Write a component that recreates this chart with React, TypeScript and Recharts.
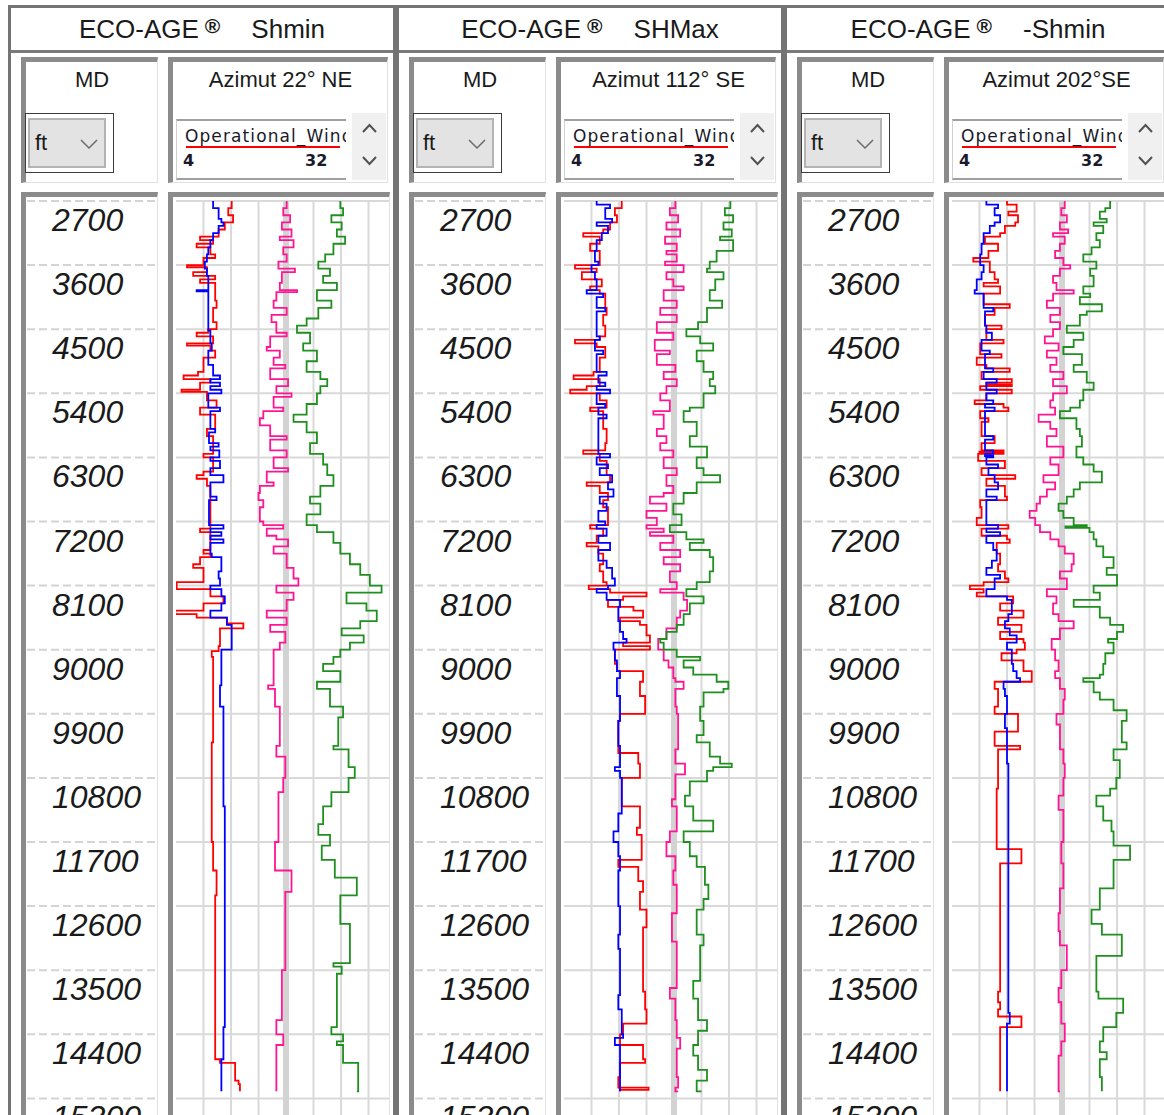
import React from 'react';
import { ScatterChart, Scatter, XAxis, YAxis, ReferenceLine } from 'recharts';

type Pt = [number, number];

// ---------- labels / ticks ----------
const depthTicks = [2700, 3600, 4500, 5400, 6300, 7200, 8100, 9000, 9900, 10800, 11700, 12600, 13500, 14400, 15300];
const gridValues = [8, 12, 16, 24, 28, 32];
const bandValue = 20;
const panelTitles = ['Shmin', 'SHMax', '-Shmin'];
const azimuthTitles = ['Azimut 22° NE', 'Azimut 112° SE', 'Azimut 202°SE'];
const curveName = 'Operational_Wind';
const scaleLabels = ['4', '32'];
const unitLabel = 'ft';
const depthDomain: [number, number] = [2700, 15533];
const valueDomain: [number, number] = [4, 36];

// ---------- panel 1 (Azimut 22° NE) ----------
const p1Red: Pt[] = [[2700,12.1],[2800,11.6],[2900,12.3],[3000,11.1],[3100,10.2],[3200,7.5],[3250,9.4],[3300,7.0],[3350,9.0],[3450,9.7],[3500,8.0],[3600,5.6],[3630,8.5],[3700,6.5],[3750,9.7],[3800,7.5],[3850,9.7],[4100,9.9],[4200,9.4],[4400,9.9],[4500,8.7],[4550,7.0],[4600,9.4],[4700,5.6],[4730,9.0],[4800,9.7],[4900,8.0],[5100,7.2],[5150,5.1],[5200,9.0],[5250,7.5],[5350,4.8],[5380,8.5],[5500,9.9],[5600,7.5],[5700,9.7],[5900,8.5],[6000,9.4],[6250,8.0],[6300,9.4],[6500,8.0],[6550,7.0],[6600,8.5],[6700,9.0],[7300,7.5],[7350,9.0],[7600,8.0],[7650,9.0],[7700,7.5],[7800,6.5],[7850,8.0],[8000,8.0],[8050,4.1],[8100,4.1],[8150,9.0],[8250,10.9],[8350,8.0],[8450,3.9],[8500,7.0],[8550,11.4],[8630,13.8],[8700,10.4],[8950,10.2],[9020,9.2],[9100,9.4],[10300,9.2],[11700,9.4],[12100,9.9],[12450,9.7],[14750,10.4],[14800,12.6],[15050,13.1],[15100,13.3],[15200,13.3]];
const p1Blue: Pt[] = [[2700,9.4],[2800,10.2],[2950,10.6],[3000,10.9],[3050,10.2],[3150,9.4],[3250,9.0],[3350,8.7],[3450,8.5],[3550,8.2],[3650,8.5],[3750,8.7],[3950,7.0],[3970,8.7],[4520,9.0],[4700,9.2],[4800,8.7],[5000,9.4],[5150,10.4],[5200,9.0],[5250,10.4],[5300,9.0],[5350,10.6],[5400,8.7],[5600,10.4],[5650,9.0],[5900,9.7],[5950,8.8],[6100,10.2],[6150,9.0],[6200,10.3],[6300,9.0],[6350,10.4],[6450,9.0],[6550,10.9],[6650,9.0],[6850,9.9],[6900,8.8],[7250,10.9],[7300,9.0],[7350,10.6],[7400,9.0],[7450,10.9],[7500,9.0],[7650,9.2],[7700,10.6],[7900,10.2],[8000,10.4],[8100,9.0],[8150,10.6],[8250,11.1],[8350,10.6],[8450,9.0],[8550,11.4],[8650,12.1],[9000,10.6],[9500,10.4],[9800,10.9],[11200,11.1],[14300,10.9],[14750,10.6],[15200,10.6]];
const p1Magenta: Pt[] = [[2700,20.1],[2800,19.6],[2900,20.6],[3000,19.4],[3100,20.8],[3200,19.1],[3250,21.1],[3350,19.6],[3450,20.1],[3550,18.9],[3650,21.3],[3700,19.4],[3850,19.1],[3950,21.6],[3980,18.6],[4100,18.2],[4200,20.1],[4300,17.9],[4400,18.6],[4550,20.1],[4600,17.7],[4750,17.2],[4800,19.1],[4900,18.2],[5000,19.9],[5050,17.7],[5200,20.3],[5300,18.6],[5400,20.8],[5450,18.2],[5600,19.6],[5650,16.7],[5750,16.2],[5850,17.7],[6000,20.1],[6050,17.7],[6200,20.1],[6300,18.2],[6450,20.3],[6500,17.2],[6650,18.2],[6700,16.2],[6800,16.0],[6900,16.7],[7000,16.2],[7200,16.7],[7250,19.6],[7300,17.2],[7400,18.6],[7450,20.3],[7550,18.2],[7650,20.1],[7850,21.1],[8000,21.8],[8100,18.6],[8200,21.1],[8300,20.1],[8450,17.2],[8550,20.1],[8650,17.7],[8750,19.9],[8900,19.1],[9000,18.2],[9500,17.4],[9550,18.4],[9800,19.1],[10350,18.6],[10500,19.9],[10800,19.6],[11000,18.9],[11700,18.4],[12100,20.8],[12400,19.9],[13500,19.4],[14200,18.6],[14400,19.6],[14550,18.6],[15200,18.6]];
const p1Green: Pt[] = [[2700,27.9],[2800,28.3],[2900,26.6],[3000,28.1],[3100,27.4],[3200,28.6],[3300,26.9],[3450,25.7],[3550,24.7],[3650,26.4],[3750,25.4],[3850,27.4],[3950,24.5],[4100,26.6],[4200,24.7],[4350,23.0],[4450,21.6],[4550,23.5],[4700,22.5],[4800,24.5],[4950,23.0],[5100,25.0],[5200,26.0],[5300,25.0],[5400,24.5],[5550,23.0],[5700,21.1],[5800,23.0],[5950,24.5],[6100,23.5],[6250,25.4],[6400,26.0],[6550,26.9],[6700,25.0],[6850,23.5],[6950,25.0],[7100,23.0],[7250,24.5],[7350,26.9],[7500,27.9],[7650,29.3],[7800,30.8],[7950,32.2],[8100,33.9],[8200,28.8],[8350,31.7],[8450,33.2],[8600,30.8],[8700,28.1],[8800,31.3],[8900,29.3],[9000,27.9],[9100,26.9],[9200,25.4],[9300,27.9],[9450,24.5],[9550,26.4],[9800,28.3],[9950,27.6],[10350,26.9],[10400,29.1],[10650,30.0],[10800,29.1],[11000,26.6],[11200,25.4],[11450,24.7],[11600,26.4],[11750,25.2],[11950,27.1],[12200,30.3],[12450,27.9],[12850,29.3],[13400,26.9],[13450,28.1],[13550,27.4],[14300,26.6],[14400,28.3],[14500,27.4],[14550,28.3],[14800,30.5],[15200,30.3]];

// ---------- panel 2 (Azimut 112° SE) ----------
const p2Red: Pt[] = [[2700,12.4],[2800,11.4],[2900,11.7],[3000,10.7],[3100,9.7],[3150,6.8],[3200,9.2],[3300,7.8],[3400,9.2],[3600,5.6],[3650,8.75],[3700,6.6],[3800,9.5],[3900,7.8],[3950,9.2],[4000,10.0],[4200,10.2],[4300,9.7],[4450,10.0],[4600,9.2],[4650,5.6],[4700,8.75],[4750,10.0],[4900,9.2],[5100,8.3],[5150,5.4],[5200,9.2],[5300,7.3],[5350,4.9],[5400,9.2],[5500,10.2],[5600,7.8],[5650,9.7],[5900,10.2],[6100,10.0],[6200,6.8],[6250,9.2],[6350,10.2],[6550,10.7],[6650,7.3],[6700,9.2],[6800,10.4],[6900,9.7],[7000,10.4],[7250,7.8],[7300,9.7],[7400,8.75],[7500,7.3],[7550,9.0],[7650,9.7],[7800,9.2],[7900,9.7],[8050,10.2],[8100,7.6],[8150,10.7],[8200,16.0],[8250,12.6],[8300,10.4],[8400,14.1],[8450,15.5],[8550,12.15],[8600,15.05],[8650,16.0],[8800,16.5],[8900,12.6],[8950,16.5],[9000,11.4],[9200,11.7],[9300,15.5],[9450,15.05],[9650,15.8],[9900,12.15],[10000,11.9],[10450,14.8],[10600,15.05],[10800,12.4],[11200,15.05],[11500,14.6],[11600,15.3],[11950,11.9],[12050,14.8],[12250,15.5],[12400,15.05],[12650,16.0],[12900,15.5],[13800,15.8],[14050,16.0],[14250,12.6],[14400,12.15],[14550,15.5],[14750,15.8],[14800,12.15],[15000,11.9],[15150,16.3],[15180,12.15],[15200,12.15]];
const p2Blue: Pt[] = [[2700,8.75],[2750,10.7],[2800,10.0],[2950,11.0],[3000,8.75],[3050,10.4],[3150,9.5],[3250,8.75],[3400,8.5],[3550,9.0],[3600,8.0],[3700,8.5],[3800,8.75],[3950,7.3],[4000,9.7],[4050,8.75],[4200,10.0],[4250,8.75],[4600,9.2],[4650,8.5],[4800,9.7],[4850,8.75],[5100,10.2],[5150,9.0],[5250,10.0],[5300,8.75],[5350,10.7],[5400,8.75],[5550,10.0],[5600,9.0],[5700,10.2],[5750,9.0],[6250,10.7],[6300,8.75],[6400,10.4],[6450,9.2],[6550,11.0],[6650,10.4],[6750,11.2],[6850,9.2],[6950,10.2],[7050,9.0],[7200,10.0],[7250,8.75],[7300,10.2],[7400,9.0],[7500,10.7],[7600,9.0],[7750,10.2],[7850,11.0],[8000,11.4],[8100,10.4],[8150,8.75],[8200,10.2],[8300,12.15],[8400,11.9],[8600,12.15],[8750,12.6],[8850,13.1],[8900,11.2],[9000,11.4],[9150,11.7],[9300,12.15],[9400,11.7],[9650,12.15],[10000,11.9],[10350,12.15],[10650,11.4],[10700,12.15],[10800,12.4],[11300,11.9],[11550,11.2],[11700,11.9],[11900,12.15],[12100,11.9],[12600,12.15],[13000,11.9],[13200,12.15],[13850,11.9],[14050,12.4],[14400,12.6],[14450,11.4],[14550,12.15],[15200,12.15]];
const p2Magenta: Pt[] = [[2700,20.2],[2800,19.4],[2900,20.6],[3000,18.9],[3100,20.9],[3200,18.7],[3300,20.4],[3400,18.9],[3450,20.4],[3550,18.7],[3600,21.4],[3700,18.9],[3800,19.9],[3900,21.4],[3950,18.5],[4100,20.4],[4200,18.0],[4300,20.4],[4400,17.5],[4550,19.9],[4650,17.2],[4800,19.4],[4850,17.5],[5000,20.2],[5100,18.5],[5200,20.4],[5300,18.9],[5400,18.0],[5500,19.4],[5650,17.0],[5700,18.5],[5900,17.5],[6000,18.9],[6100,18.0],[6200,19.9],[6300,18.5],[6450,20.4],[6550,18.9],[6700,19.9],[6800,18.5],[6850,16.5],[6950,18.9],[7050,16.0],[7150,17.5],[7250,16.0],[7300,18.5],[7350,16.5],[7400,19.9],[7500,18.0],[7600,20.9],[7700,18.5],[7800,20.9],[7900,19.4],[8050,20.4],[8150,18.0],[8200,21.4],[8300,21.9],[8450,20.9],[8550,20.4],[8700,18.9],[8850,17.7],[9000,18.5],[9150,19.2],[9250,19.9],[9400,20.2],[9450,21.4],[9550,20.2],[9800,20.4],[9900,20.6],[10400,20.2],[10600,21.6],[10750,20.2],[11100,19.7],[11200,20.4],[11550,19.4],[11700,18.9],[11900,20.2],[12100,19.9],[12300,20.4],[12700,19.7],[13100,20.4],[13750,19.4],[13900,20.2],[14200,20.4],[14450,20.9],[14600,20.4],[15000,20.6],[15150,20.2],[15200,20.6]];
const p2Green: Pt[] = [[2700,28.2],[2800,27.4],[2900,28.6],[3000,27.2],[3100,28.4],[3200,26.7],[3250,28.6],[3400,26.2],[3550,25.2],[3650,24.8],[3700,27.2],[3800,26.0],[3950,25.2],[4100,27.0],[4200,24.8],[4400,23.5],[4500,21.8],[4600,23.8],[4700,25.7],[4800,23.3],[4950,24.3],[5100,25.7],[5200,25.2],[5300,26.0],[5400,24.3],[5600,22.3],[5650,21.4],[5800,23.3],[6000,22.3],[6150,24.8],[6300,23.3],[6450,24.3],[6550,26.7],[6650,23.3],[6800,21.4],[6950,19.9],[7100,21.1],[7250,19.4],[7350,21.8],[7450,24.3],[7500,22.3],[7600,25.2],[7700,25.7],[7900,25.2],[8050,23.3],[8150,21.8],[8250,24.3],[8350,22.3],[8500,21.4],[8650,20.4],[8750,18.9],[8850,18.0],[8900,18.5],[9000,20.4],[9100,23.8],[9150,21.4],[9250,22.8],[9350,26.2],[9450,27.9],[9550,27.2],[9600,24.3],[9800,23.8],[10000,24.3],[10200,23.3],[10300,25.2],[10500,26.7],[10600,28.4],[10650,25.7],[10700,24.8],[10850,22.3],[11050,21.6],[11200,22.8],[11400,25.7],[11550,21.4],[11700,22.3],[11900,23.3],[12050,24.5],[12300,25.0],[12500,24.3],[12650,23.3],[13000,24.3],[13150,23.8],[13650,22.8],[13900,23.5],[14200,24.8],[14350,23.5],[14550,22.8],[14700,23.5],[14900,24.8],[15050,23.3],[15200,24.0]];

// ---------- panel 3 (Azimut 202°SE) ----------
const p3Red: Pt[] = [[2700,12.0],[2750,13.4],[2850,12.2],[2900,13.6],[3000,13.2],[3050,11.7],[3150,11.0],[3200,8.8],[3300,10.7],[3400,9.3],[3500,7.1],[3550,9.5],[3700,10.2],[3800,10.7],[3850,8.6],[3900,11.0],[4000,8.6],[4150,12.4],[4200,10.2],[4300,8.8],[4450,11.2],[4500,9.0],[4650,11.5],[4700,8.1],[4850,11.2],[4900,7.6],[5000,9.0],[5050,12.4],[5100,8.3],[5200,12.7],[5250,9.0],[5280,12.7],[5300,8.1],[5350,12.7],[5400,9.0],[5500,7.3],[5550,11.5],[5600,12.2],[5650,8.1],[5750,9.3],[5800,8.3],[6000,10.2],[6100,8.3],[6200,11.5],[6220,8.0],[6240,11.5],[6250,7.8],[6350,11.7],[6450,8.3],[6550,13.2],[6600,9.0],[6700,11.7],[6850,12.0],[6900,8.1],[7000,8.3],[7150,7.6],[7250,12.2],[7300,8.3],[7400,12.0],[7450,12.4],[7500,10.5],[7650,11.0],[7800,10.7],[7900,11.7],[8000,12.2],[8050,8.6],[8100,6.6],[8150,8.6],[8200,7.6],[8250,12.9],[8350,11.0],[8450,14.4],[8550,10.7],[8650,14.1],[8750,11.0],[8850,14.4],[8900,14.6],[9000,13.4],[9050,11.2],[9150,14.4],[9300,15.6],[9450,10.2],[9550,10.7],[9800,10.2],[9900,13.6],[10150,10.2],[10350,13.9],[10400,10.7],[10950,10.5],[11800,14.1],[12000,11.0],[13800,10.7],[13950,11.0],[14050,10.7],[14150,14.1],[14300,11.0],[15200,11.0]];
const p3Blue: Pt[] = [[2700,9.0],[2750,10.7],[2800,10.2],[2900,11.0],[3000,10.2],[3050,9.5],[3150,8.6],[3300,8.3],[3450,8.1],[3600,8.6],[3700,8.3],[3800,7.6],[3950,7.3],[4000,8.6],[4200,10.0],[4250,8.8],[4450,9.0],[4550,9.8],[4650,8.3],[4800,9.5],[4850,8.8],[5050,10.0],[5100,8.6],[5200,10.5],[5250,9.0],[5350,10.5],[5400,9.0],[5500,10.0],[5550,8.8],[5600,10.2],[5650,8.8],[6000,10.0],[6050,8.8],[6200,10.0],[6250,8.8],[6280,10.0],[6300,9.0],[6400,10.7],[6450,9.3],[6550,10.2],[6650,10.7],[6750,9.0],[6850,10.5],[6900,9.0],[7250,10.7],[7300,9.0],[7350,11.0],[7400,9.0],[7500,10.0],[7600,10.5],[7750,9.8],[7850,9.0],[7950,11.0],[8000,10.2],[8150,9.0],[8250,12.0],[8300,12.7],[8500,12.2],[8600,11.7],[8700,12.4],[8800,13.4],[8900,12.0],[9000,12.7],[9200,12.9],[9300,13.4],[9400,13.9],[9450,11.5],[9550,11.7],[9650,12.0],[9900,11.7],[10100,12.0],[10600,12.2],[14100,12.4],[14250,12.0],[15200,12.0]];
const p3Magenta: Pt[] = [[2700,20.4],[2800,19.9],[2900,20.7],[3000,19.7],[3100,20.9],[3150,18.7],[3200,20.4],[3300,19.7],[3400,19.0],[3500,20.2],[3600,21.2],[3650,19.7],[3750,18.7],[3850,19.2],[3950,21.7],[4000,18.7],[4100,17.8],[4200,19.7],[4300,18.3],[4400,19.7],[4500,18.7],[4600,17.5],[4700,19.5],[4800,17.8],[4900,19.2],[5000,18.3],[5100,20.2],[5200,18.7],[5300,20.7],[5400,18.7],[5500,18.3],[5600,19.0],[5700,16.6],[5800,18.3],[5900,19.2],[6000,17.8],[6150,20.2],[6300,18.3],[6400,19.5],[6550,17.3],[6650,19.0],[6750,17.8],[6850,16.8],[6950,16.3],[7050,15.3],[7150,16.1],[7250,16.8],[7350,18.3],[7450,19.5],[7550,20.4],[7650,21.7],[7800,21.4],[7900,19.7],[8000,20.7],[8150,17.8],[8250,19.2],[8350,18.7],[8500,19.5],[8600,21.7],[8700,19.7],[8850,18.5],[9000,19.0],[9150,19.5],[9300,19.0],[9400,19.7],[9550,20.4],[9700,20.2],[9900,19.2],[10050,19.7],[10400,20.2],[10600,20.4],[10800,20.2],[11050,19.5],[11250,20.2],[11700,19.9],[12000,20.2],[12350,19.7],[12700,19.5],[12950,19.7],[13150,20.7],[13500,19.9],[13750,19.5],[13950,19.9],[14250,20.4],[14500,19.9],[14700,19.5],[15200,19.7]];
const p3Green: Pt[] = [[2700,27.0],[2800,26.3],[2850,25.5],[2950,26.5],[3000,24.6],[3050,26.0],[3150,25.0],[3250,25.5],[3350,24.3],[3450,23.1],[3550,25.0],[3650,24.1],[3750,24.6],[3900,23.1],[4000,24.1],[4050,22.6],[4150,25.8],[4250,23.6],[4300,22.6],[4450,20.7],[4550,23.1],[4650,21.7],[4750,20.2],[4850,22.9],[5000,21.7],[5100,23.6],[5250,24.6],[5350,23.1],[5500,22.6],[5600,21.2],[5650,19.7],[5750,22.1],[5900,22.6],[6000,22.9],[6150,22.1],[6300,23.1],[6400,24.6],[6500,25.8],[6650,22.6],[6750,21.7],[6850,20.7],[6950,19.5],[7050,20.2],[7150,21.7],[7250,23.6],[7270,20.5],[7290,24.0],[7350,24.6],[7450,25.0],[7550,26.0],[7700,27.5],[7850,26.5],[7950,28.0],[8100,24.6],[8200,25.5],[8300,21.7],[8400,25.5],[8550,27.0],[8650,28.9],[8750,28.0],[8850,26.7],[8900,27.5],[9050,26.3],[9200,26.0],[9350,25.5],[9400,23.1],[9450,24.6],[9600,25.5],[9700,27.5],[9850,29.4],[10000,28.7],[10300,29.4],[10400,27.5],[10550,28.4],[10800,27.9],[10950,27.0],[11050,25.0],[11200,26.0],[11400,27.2],[11550,27.5],[11750,29.9],[11950,27.5],[12200,27.5],[12350,25.5],[12650,24.3],[12850,25.8],[13000,28.7],[13300,25.0],[13800,25.3],[13900,28.9],[14100,27.9],[14300,26.0],[14500,25.5],[14650,26.5],[14750,25.5],[15000,25.8],[15200,25.8]];

const panelCurves: Pt[][][] = [
  [p1Red, p1Blue, p1Magenta, p1Green],
  [p2Red, p2Blue, p2Magenta, p2Green],
  [p3Red, p3Blue, p3Magenta, p3Green],
];
const curveColors = ['#ff0000', '#0000ff', '#ff1493', '#1f8f1f'];

// convert [depth, value] readings into step-curve points
function toStep(pts: Pt[]) {
  const out: { d: number; v: number }[] = [];
  pts.forEach((p, i) => {
    if (i > 0) out.push({ d: p[0], v: pts[i - 1][1] });
    out.push({ d: p[0], v: p[1] });
  });
  return out;
}

const FONT = '"Liberation Sans", Arial, sans-serif';
const LEGEND_FONT = '"DejaVu Sans", Verdana, sans-serif';
const PANEL_W = 388;

const NoShape = () => <g />;

const DepthTick = (props: any) => {
  const { y, payload } = props;
  return (
    <g>
      <line x1={2} x2={133} y1={y} y2={y} stroke="#d4d4d4" strokeWidth={2} strokeDasharray="8 4" />
      <text x={27} y={y + 30} fontSize={32} fontStyle="italic" fontFamily={FONT} fill="#1a1a1a">
        {payload.value}
      </text>
    </g>
  );
};

const inset = (left: number, top: number, width: number, height: number): React.CSSProperties => ({
  position: 'absolute', left, top, width, height, boxSizing: 'border-box',
  borderTop: '5px solid #8b8b8b', borderLeft: '5px solid #8b8b8b',
  borderRight: '1px solid #e2e2e2', borderBottom: '1px solid #e2e2e2',
});

function Panel({ index }: { index: number }) {
  const ox = index * PANEL_W;
  const curves = panelCurves[index];
  return (
    <>
      {/* log chart: MD column axis + track */}
      <div style={{ position: 'absolute', left: 25 + ox, top: 197, width: 365, height: 918, overflow: 'hidden' }}>
        <ScatterChart width={371} height={918} margin={{ top: 4, right: 0, bottom: 0, left: 0 }}>
          <XAxis type="number" dataKey="v" domain={valueDomain} hide allowDataOverflow />
          <YAxis type="number" dataKey="d" domain={depthDomain} reversed ticks={depthTicks} interval={0}
            width={151} axisLine={false} tickLine={false} tick={<DepthTick />} allowDataOverflow />
          {depthTicks.map((d) => (
            <ReferenceLine key={'h' + d} y={d} stroke="#d9d9d9" strokeWidth={2} />
          ))}
          {gridValues.map((g) => (
            <ReferenceLine key={'v' + g} x={g} stroke="#d9d9d9" strokeWidth={2} />
          ))}
          <ReferenceLine x={bandValue} stroke="#d3d3d3" strokeWidth={6} />
          {curves.map((c, i) => (
            <Scatter key={i} data={toStep(c)} fill={curveColors[i]}
              line={{ stroke: curveColors[i], strokeWidth: 1.8 }} lineType="joint"
              shape={NoShape} isAnimationActive={false} />
          ))}
        </ScatterChart>
      </div>

      {/* frames */}
      <div style={{ position: 'absolute', left: 8 + ox, top: 5, width: PANEL_W, height: 1125, boxSizing: 'border-box', border: '3px solid #747474' }} />
      <div style={{ position: 'absolute', left: 11 + ox, top: 50, width: PANEL_W - 6, height: 3, background: '#7a7a7a' }} />
      <div style={{ position: 'absolute', left: 11 + ox, top: 8, width: PANEL_W - 6, height: 42, display: 'flex', alignItems: 'center', justifyContent: 'center', fontSize: 26, color: '#1a1a1a', fontFamily: FONT }}>
        <span>ECO-AGE</span>
        <span style={{ fontSize: 21, fontWeight: 'bold', marginLeft: 6, position: 'relative', top: -3 }}>®</span>
        <span style={{ marginLeft: 31 }}>{panelTitles[index]}</span>
      </div>

      <div style={inset(21 + ox, 57, 137, 126)} />
      <div style={{ position: 'absolute', left: 26 + ox, top: 67, width: 132, textAlign: 'center', fontSize: 22, fontFamily: FONT, color: '#1a1a1a' }}>MD</div>
      <div style={{ position: 'absolute', left: 25 + ox, top: 113, width: 89, height: 60, boxSizing: 'border-box', border: '1px solid #3c3c3c' }} />
      <div style={{ position: 'absolute', left: 28 + ox, top: 118, width: 78, height: 50, boxSizing: 'border-box', background: '#e3e3e3', border: '2px solid #b4b4b4' }} />
      <div style={{ position: 'absolute', left: 35 + ox, top: 130, fontSize: 22, fontFamily: FONT, color: '#1a1a1a' }}>{unitLabel}</div>
      <svg style={{ position: 'absolute', left: 80 + ox, top: 138 }} width={18} height={12}>
        <polyline points="1,2 9,10 17,2" fill="none" stroke="#6a6a6a" strokeWidth={1.5} />
      </svg>

      <div style={inset(168 + ox, 57, 220, 126)} />
      <div style={{ position: 'absolute', left: 173 + ox, top: 67, width: 215, textAlign: 'center', fontSize: 22, fontFamily: FONT, color: '#1a1a1a', whiteSpace: 'nowrap' }}>{azimuthTitles[index]}</div>
      <div style={{ position: 'absolute', left: 176 + ox, top: 119, width: 170, height: 61, boxSizing: 'border-box', borderTop: '2px solid #a0a0a0', borderBottom: '2px solid #a0a0a0', borderLeft: '1px solid #d0d0d0', overflow: 'hidden', background: '#fff' }}>
        <div style={{ position: 'absolute', left: 9, top: 25, width: 154, height: 2, background: '#ff0000' }} />
        <div style={{ position: 'absolute', left: 8, top: 5, fontSize: 17, fontFamily: LEGEND_FONT, color: '#1a1a2a', whiteSpace: 'nowrap', letterSpacing: 1.1 }}>{curveName}</div>
        <div style={{ position: 'absolute', left: 6, top: 30, fontSize: 16, fontWeight: 'bold', fontFamily: LEGEND_FONT, color: '#1a1a2a' }}>{scaleLabels[0]}</div>
        <div style={{ position: 'absolute', left: 128, top: 30, fontSize: 16, fontWeight: 'bold', fontFamily: LEGEND_FONT, color: '#1a1a2a' }}>{scaleLabels[1]}</div>
      </div>
      <div style={{ position: 'absolute', left: 352 + ox, top: 113, width: 34, height: 67, background: '#f0f0f0' }} />
      <svg style={{ position: 'absolute', left: 362 + ox, top: 123 }} width={15} height={10}>
        <polyline points="1,9 7.5,2 14,9" fill="none" stroke="#505050" strokeWidth={2} />
      </svg>
      <svg style={{ position: 'absolute', left: 362 + ox, top: 156 }} width={15} height={10}>
        <polyline points="1,1 7.5,8 14,1" fill="none" stroke="#505050" strokeWidth={2} />
      </svg>

      <div style={inset(21 + ox, 192, 137, 940)} />
      <div style={inset(168 + ox, 192, 222, 940)} />
    </>
  );
}

export default function App() {
  return (
    <div style={{ position: 'absolute', left: 0, top: 0, width: 1164, height: 1115, overflow: 'hidden', background: '#ffffff', fontFamily: FONT }}>
      {[0, 1, 2].map((i) => (
        <Panel key={i} index={i} />
      ))}
    </div>
  );
}
